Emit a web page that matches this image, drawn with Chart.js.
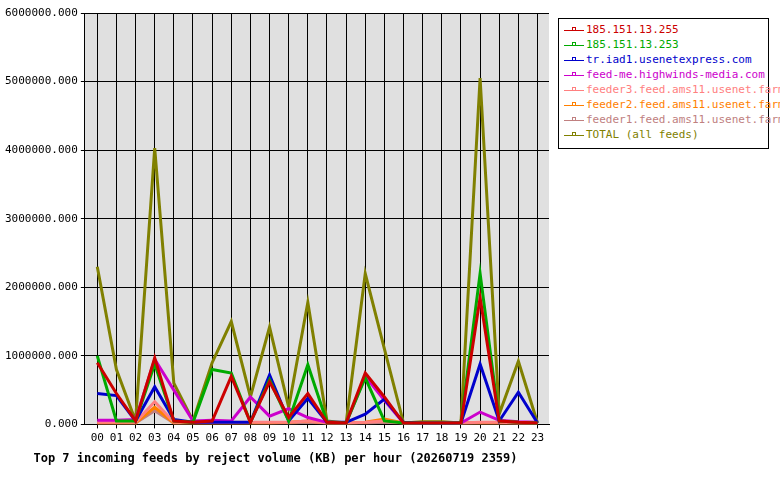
<!DOCTYPE html>
<html><head><meta charset="utf-8">
<script src="https://cdn.jsdelivr.net/npm/chart.js@4"></script>
<style>
body{margin:0;background:#fff;font-family:"DejaVu Sans Mono",monospace;}
#wrap{position:absolute;left:0;top:0;width:556px;height:480px;}
#legend{position:absolute;left:558px;top:18px;width:211px;height:131px;border:1px solid #000;box-sizing:border-box;font-size:11px;padding:3px 0 0 5px;}
#legend div{height:15px;line-height:15px;white-space:nowrap;}
#legend span.m{display:inline-block;width:20px;height:1px;vertical-align:middle;position:relative;margin-right:2px;}
#legend span.m i{position:absolute;left:8px;top:-3px;width:2px;height:2px;border:1px solid;border-bottom:none;}
</style></head><body>
<div id="wrap"><canvas id="c"></canvas></div>
<div id="legend"></div>
<script>
const hours=["00","01","02","03","04","05","06","07","08","09","10","11","12","13","14","15","16","17","18","19","20","21","22","23"];
const names=["185.151.13.255","185.151.13.253","tr.iad1.usenetexpress.com","feed-me.highwinds-media.com","feeder3.feed.ams11.usenet.farm","feeder2.feed.ams11.usenet.farm","feeder1.feed.ams11.usenet.farm","TOTAL (all feeds)"];
const colors=["#cc0000","#00aa00","#0000cc","#cc00cc","#ff8080","#ff8000","#c08080","#808000"];
const red=[0.9,0.45,0.05,0.97,0.05,0.03,0.05,0.7,0.03,0.62,0.1,0.45,0.03,0.02,0.75,0.4,0.02,0.02,0.02,0.02,1.85,0.05,0.03,0.02];
const green=[1.0,0.05,0.05,0.88,0.05,0.03,0.8,0.75,0.03,0.65,0.05,0.87,0.03,0.02,0.68,0.05,0.02,0.02,0.02,0.02,2.2,0.05,0.03,0.02];
const blue=[0.45,0.42,0.05,0.55,0.07,0.03,0.03,0.03,0.03,0.72,0.05,0.38,0.03,0.03,0.15,0.37,0.03,0.02,0.02,0.02,0.88,0.05,0.47,0.02];
const magenta=[0.06,0.06,0.07,0.95,0.5,0.05,0.06,0.05,0.4,0.12,0.23,0.1,0.03,0.02,0.7,0.35,0.02,0.02,0.02,0.02,0.18,0.06,0.04,0.03];
const feeder3=[0.03,0.03,0.03,0.33,0.03,0.03,0.03,0.03,0.03,0.03,0.03,0.05,0.02,0.02,0.03,0.05,0.02,0.02,0.02,0.02,0.03,0.03,0.02,0.02];
const feeder2=[0.02,0.02,0.02,0.25,0.02,0.02,0.02,0.02,0.02,0.02,0.03,0.05,0.02,0.02,0.03,0.08,0.02,0.02,0.02,0.02,0.02,0.02,0.02,0.02];
const feeder1=[0.02,0.02,0.02,0.2,0.02,0.02,0.02,0.02,0.02,0.02,0.02,0.03,0.02,0.02,0.02,0.03,0.02,0.02,0.02,0.02,0.02,0.02,0.02,0.02];
const total=[2.3,0.8,0.05,4.03,0.6,0.05,0.9,1.5,0.4,1.42,0.25,1.78,0.05,0.02,2.2,1.1,0.02,0.04,0.04,0.02,5.05,0.15,0.92,0.02];
const series=[red,green,blue,magenta,feeder3,feeder2,feeder1,total];
const F='"DejaVu Sans Mono", monospace';
const datasets=series.map((s,i)=>({label:names[i],data:s.map((v,j)=>({x:j,y:v*1e6})),borderColor:colors[i],borderWidth:3,pointRadius:0,tension:0,fill:false}));
const bg={id:'bg',beforeDraw(c){const a=c.chartArea,x=c.ctx;x.save();x.fillStyle='#e0e0e0';x.fillRect(a.left,a.top,a.right-a.left,a.bottom-a.top);x.restore();}};
new Chart(document.getElementById('c'),{type:'line',data:{datasets},plugins:[bg],
options:{responsive:true,maintainAspectRatio:false,animation:false,
layout:{padding:{top:13,right:7,left:2,bottom:14}},
plugins:{legend:{display:false},tooltip:{enabled:false},
title:{display:true,position:'bottom',text:'Top 7 incoming feeds by reject volume (KB) per hour (20260719 2359)',color:'#000',font:{family:F,size:12,weight:'bold'},padding:{top:4,bottom:0}}},
scales:{
x:{type:'linear',min:-0.65,max:23.6,afterBuildTicks(ax){ax.ticks=hours.map((h,i)=>({value:i}));},
ticks:{autoSkip:false,maxRotation:0,color:'#000',font:{family:F,size:11},callback:(v)=>hours[v]},
grid:{color:'#000',lineWidth:1,drawTicks:true,tickLength:4},border:{color:'#000'}},
y:{min:0,max:6000000,ticks:{stepSize:1000000,color:'#000',font:{family:F,size:11},callback:v=>v.toFixed(3)},
grid:{color:'#000',lineWidth:1,tickLength:4},border:{color:'#000'}}}}});
const lg=document.getElementById('legend');
names.forEach((n,i)=>{const d=document.createElement('div');d.style.color=colors[i];
d.innerHTML='<span class="m" style="background:'+colors[i]+'"><i style="border-color:'+colors[i]+'"></i></span>'+n;lg.appendChild(d);});
</script></body></html>
